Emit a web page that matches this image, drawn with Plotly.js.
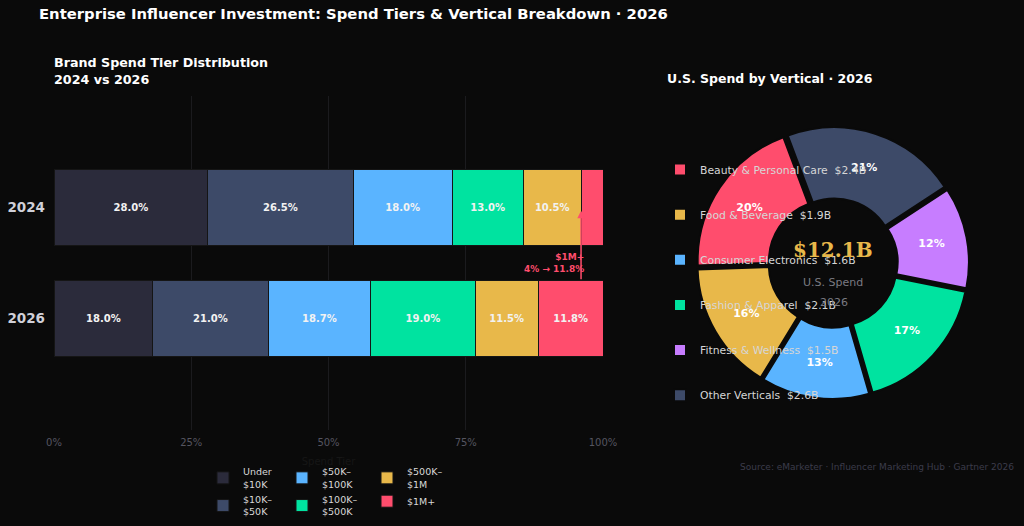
<!DOCTYPE html>
<html>
<head>
<meta charset="utf-8">
<script src="https://cdn.plot.ly/plotly-3.0.1.min.js"></script>
<style>
  html, body { margin: 0; padding: 0; background: #0a0a0a; }
  #chart { width: 1024px; height: 526px; }
</style>
</head>
<body>
<div id="chart"></div>
<script>
// Brand spend tiers: share of brands (%) by annual influencer budget
const years = ['2024', '2026'];
const tierNames = ['Under<br>$10K', '$10K–<br>$50K', '$50K–<br>$100K', '$100K–<br>$500K', '$500K–<br>$1M', '$1M+'];
const share2024 = [28.0, 26.5, 18.0, 13.0, 10.5, 4.0];
const share2026 = [18.0, 21.0, 18.7, 19.0, 11.5, 11.8];
const tierColors = ['#2b2b3b', '#3d4a68', '#5ab4ff', '#00e3a0', '#e8b84a', '#ff4d6d'];
const axisTicks = [0, 25, 50, 75, 100];

// U.S. spend by vertical, 2026 ($ billions)
const verticals = ['Beauty & Personal Care', 'Food & Beverage', 'Consumer Electronics', 'Fashion & Apparel', 'Fitness & Wellness', 'Other Verticals'];
const spendB = [2.4, 1.9, 1.6, 2.1, 1.5, 2.6];
const verticalColors = ['#ff4d6d', '#e8b84a', '#5ab4ff', '#00e3a0', '#c77dff', '#3d4a68'];

const BG = '#0a0a0a';
const FONT = 'DejaVu Sans, Verdana, sans-serif';
const W = 1024, H = 526;
const px = v => v / W;          // pixel -> paper x
const py = v => 1 - v / H;      // pixel -> paper y

const legendIds = ['legend', 'legend', 'legend2', 'legend2', 'legend3', 'legend3'];
const label = v => (v >= 5 ? '<b>' + v.toFixed(1) + '%</b>' : '');

const traces = tierNames.map((name, i) => ({
  type: 'bar',
  orientation: 'h',
  name: name,
  y: years,
  x: [share2024[i], share2026[i]],
  text: [label(share2024[i]), label(share2026[i])],
  textposition: 'inside',
  insidetextanchor: 'middle',
  textangle: 0,
  insidetextfont: { family: FONT, size: 10, color: '#f2f2f2' },
  marker: { color: tierColors[i], line: { color: '#151515', width: 1 } },
  legend: legendIds[i],
  hoverinfo: 'skip',
  xaxis: 'x', yaxis: 'y'
}));

const total = spendB.reduce((a, b) => a + b, 0);

traces.push({
  type: 'pie',
  labels: verticals.map((v, i) => ' <br>' + v + ' \u00a0$' + spendB[i].toFixed(1) + 'B<br> '),
  values: spendB,
  sort: false,
  direction: 'counterclockwise',
  rotation: -92,
  hole: 0.46,
  pull: 0.03,
  marker: { colors: verticalColors, line: { color: BG, width: 2 } },
  texttemplate: '<b>%{percent:.0%}</b>',
  textposition: 'inside',
  insidetextorientation: 'horizontal',
  textfont: { family: FONT, size: 11, color: '#ffffff' },
  domain: { x: [px(697), px(969)], y: [py(399), py(127)] },
  legend: 'legend4',
  hoverinfo: 'skip'
});

// $1M+ boundary in 2024 = where the $1M+ segment starts
const oneMStart2024 = share2024.slice(0, 5).reduce((a, b) => a + b, 0);
const oneM2024 = share2024[5], oneM2026 = share2026[5];

const barLegend = (x) => ({
  orientation: 'v', x: px(x), xanchor: 'left', y: py(459), yanchor: 'top',
  bgcolor: 'rgba(0,0,0,0)', traceorder: 'normal', tracegroupgap: 0,
  font: { family: FONT, size: 9.5, color: '#d8d8d8' }, valign: 'middle'
});

const layout = {
  width: W, height: H,
  paper_bgcolor: BG, plot_bgcolor: BG,
  margin: { l: 0, r: 0, t: 0, b: 0 },
  font: { family: FONT, color: '#cfcfcf' },
  title: {
    text: '<b>Enterprise Influencer Investment: Spend Tiers & Vertical Breakdown · 2026</b>',
    x: px(39), xanchor: 'left', xref: 'paper',
    y: py(14), yanchor: 'middle', yref: 'paper',
    font: { family: FONT, size: 14.8, color: '#ffffff' }
  },
  barmode: 'stack',
  bargap: 0.32,
  xaxis: {
    domain: [px(54), px(603)],
    range: [0, 100],
    tickmode: 'array',
    tickvals: axisTicks,
    ticktext: axisTicks.map(t => t + '%'),
    showgrid: true, gridcolor: '#1b1b1e', gridwidth: 1,
    zeroline: false, showline: false, ticks: '',
    ticklabelstandoff: 5,
    tickfont: { family: FONT, size: 10, color: '#555560' },
    title: { text: 'Spend Tier', font: { family: FONT, size: 10, color: '#161616' }, standoff: 10 },
    fixedrange: true
  },
  yaxis: {
    domain: [py(430), py(96)],
    type: 'category',
    range: [2, -1],
    showgrid: false, zeroline: false, showline: false, ticks: '',
    ticklabelstandoff: 8,
    tickfont: { family: FONT, size: 13.5, color: '#d0d0d8', weight: 'bold' },
    fixedrange: true
  },
  showlegend: true,
  legend: barLegend(203),
  legend2: barLegend(282),
  legend3: barLegend(367),
  legend4: {
    orientation: 'v', x: px(660), xanchor: 'left', y: py(142), yanchor: 'top',
    bgcolor: 'rgba(0,0,0,0)', traceorder: 'normal',
    font: { family: FONT, size: 10.8, color: '#d6d6d6' }, valign: 'middle'
  },
  annotations: [
    {
      xref: 'paper', yref: 'paper', x: px(52), y: py(71), xanchor: 'left', yanchor: 'middle', align: 'left',
      text: '<b>Brand Spend Tier Distribution<br>2024 vs 2026</b>', showarrow: false,
      font: { family: FONT, size: 12.7, color: '#ffffff' }
    },
    {
      xref: 'paper', yref: 'paper', x: px(665), y: py(78), xanchor: 'left', yanchor: 'middle',
      text: '<b>U.S. Spend by Vertical · 2026</b>', showarrow: false,
      font: { family: FONT, size: 12.5, color: '#ffffff' }
    },
    {
      // arrow from the 2026 $1M+ bar up to the 2024 $1M+ segment
      xref: 'x', yref: 'y', axref: 'x', ayref: 'y',
      x: oneMStart2024, y: 0.03, ax: oneMStart2024, ay: 0.66,
      text: '', showarrow: true, arrowhead: 2, arrowsize: 1, arrowwidth: 1.5, arrowcolor: '#ff4d6d'
    },
    {
      xref: 'x', yref: 'y', x: oneMStart2024 + 0.9, y: 0.5, xanchor: 'right', yanchor: 'middle', align: 'right',
      text: '<b>$1M+<br>' + oneM2024.toFixed(0) + '% → ' + oneM2026.toFixed(1) + '%</b>', showarrow: false,
      font: { family: FONT, size: 9, color: '#ff4d6d' }
    },
    {
      xref: 'paper', yref: 'paper', x: px(833), y: py(250), xanchor: 'center', yanchor: 'middle',
      text: '<b>$' + total.toFixed(1) + 'B</b>', showarrow: false,
      font: { family: 'DejaVu Serif, serif', size: 20, color: '#e8b84a' }
    },
    {
      xref: 'paper', yref: 'paper', x: px(833), y: py(282), xanchor: 'center', yanchor: 'middle',
      text: 'U.S. Spend', showarrow: false,
      font: { family: FONT, size: 11, color: '#7a7a82' }
    },
    {
      xref: 'paper', yref: 'paper', x: px(834), y: py(302), xanchor: 'center', yanchor: 'middle',
      text: '2026', showarrow: false,
      font: { family: FONT, size: 11, color: '#7a7a82' }
    },
    {
      xref: 'paper', yref: 'paper', x: px(1016), y: py(467), xanchor: 'right', yanchor: 'middle',
      text: 'Source: eMarketer · Influencer Marketing Hub · Gartner 2026', showarrow: false,
      font: { family: FONT, size: 9, color: '#3c3c4a' }
    }
  ]
};

Plotly.newPlot('chart', traces, layout, { displayModeBar: false, staticPlot: true });
</script>
</body>
</html>
